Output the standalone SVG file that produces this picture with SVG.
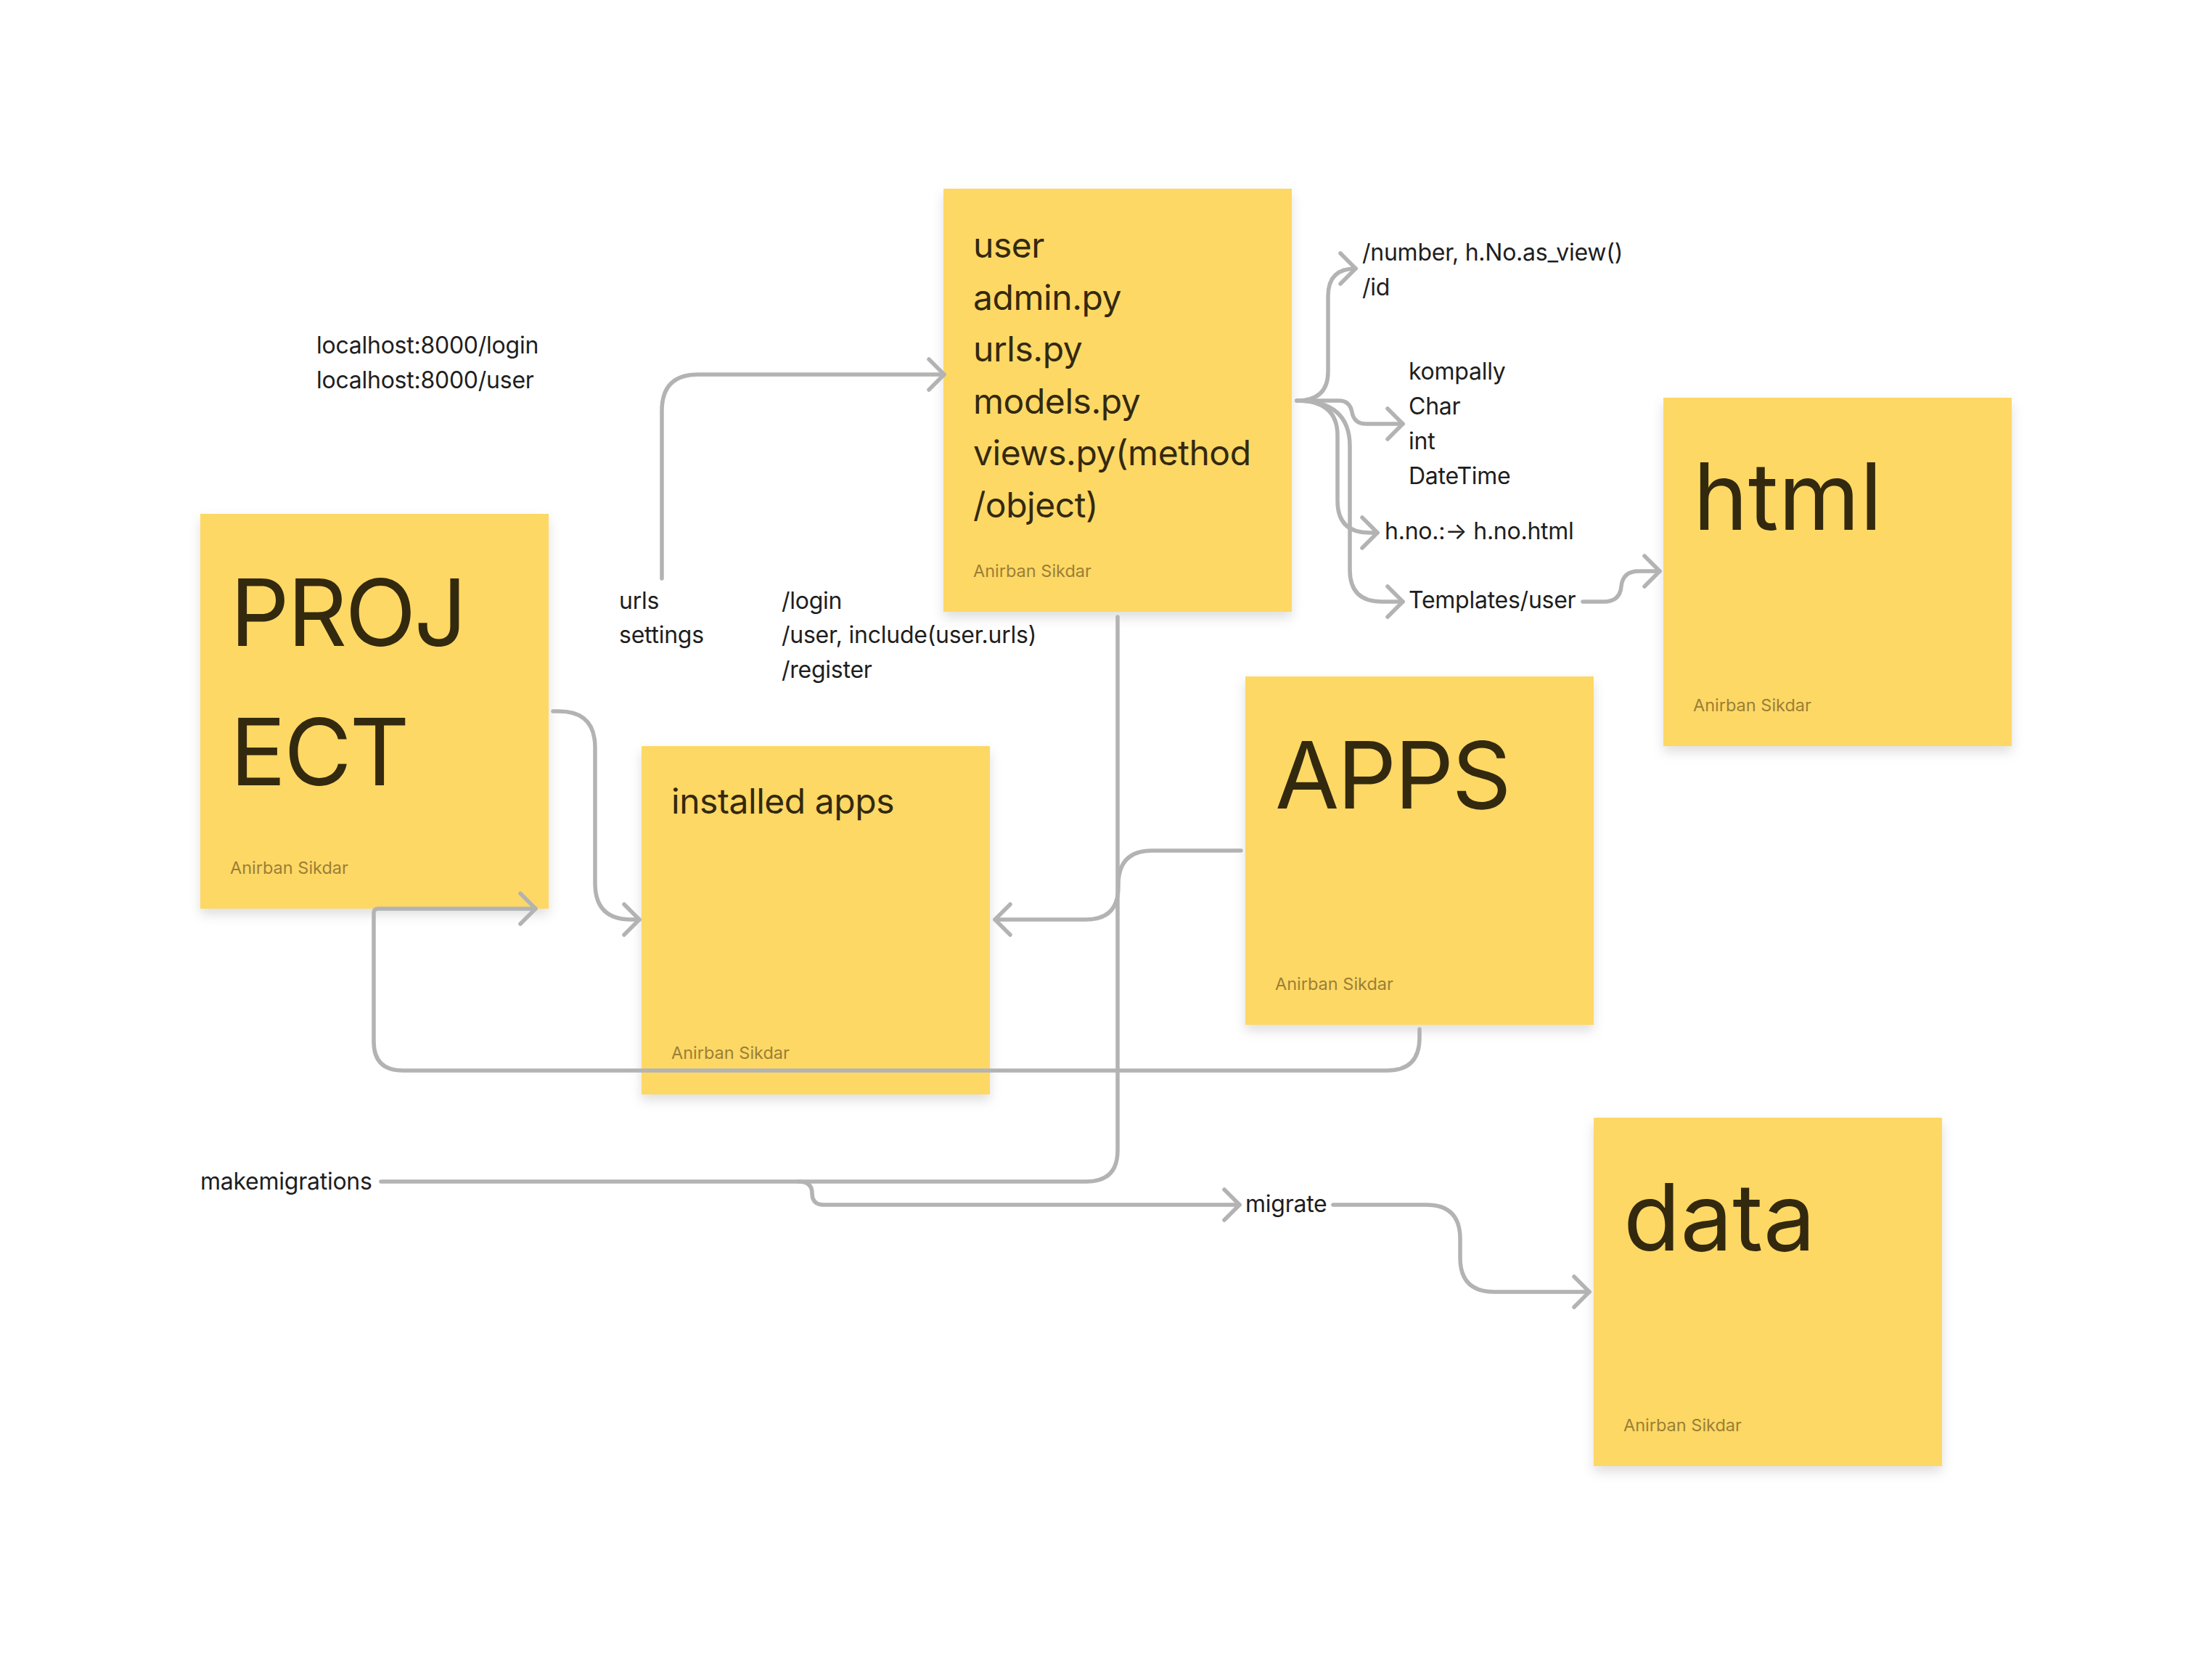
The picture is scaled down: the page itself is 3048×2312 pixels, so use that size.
<svg xmlns="http://www.w3.org/2000/svg" width="3048" height="2312" viewBox="0 0 3048 2312">
<style>
.note{fill:#FED865;filter:url(#sh)}
.big{font-family:Inter,"Noto Sans",sans-serif;font-size:128px;fill:#33290F;letter-spacing:-2.8px}
.big.lc{letter-spacing:0}
.mid{font-family:Inter,"Noto Sans",sans-serif;font-size:48px;fill:#33290F;letter-spacing:-0.45px}
.auth{font-family:Inter,"Noto Sans",sans-serif;font-size:23.5px;fill:#9A7F36}
.lbl{font-family:Inter,"Noto Sans",sans-serif;font-size:32px;fill:#1E1E1E;letter-spacing:-0.25px}
.conn path{fill:none;stroke:#B3B3B3;stroke-width:5.5;stroke-linecap:round;stroke-linejoin:round}
.conn path.a{marker-end:url(#arr)}
</style>
<defs>
<filter id="sh" x="-10%" y="-10%" width="120%" height="125%">
<feDropShadow dx="0" dy="8" stdDeviation="8" flood-color="#000" flood-opacity="0.13"/>
</filter>
<marker id="arr" markerUnits="userSpaceOnUse" viewBox="-26 -26 32 52" refX="0" refY="0" markerWidth="32" markerHeight="52" orient="auto" overflow="visible">
<path d="M-21,-21 L0,0 L-21,21" fill="none" stroke="#B3B3B3" stroke-width="5.5" stroke-linecap="round" stroke-linejoin="round"/>
</marker>
</defs>
<rect width="3048" height="2312" fill="#FFFFFF"/>

<g id="project">
<rect class="note" x="276" y="708" width="480" height="544"/>
<text class="big" x="317" y="890">PROJ</text>
<text class="big" x="317" y="1082">ECT</text>
<text class="auth" x="317" y="1204">Anirban Sikdar</text>
</g>
<g id="user">
<rect class="note" x="1300" y="260" width="480" height="583"/>
<text class="mid" x="1341" y="355">user</text>
<text class="mid" x="1341" y="426.5">admin.py</text>
<text class="mid" x="1341" y="498">urls.py</text>
<text class="mid" x="1341" y="569.5">models.py</text>
<text class="mid" x="1341" y="641">views.py(method</text>
<text class="mid" x="1341" y="712.5">/object)</text>
<text class="auth" x="1341" y="795">Anirban Sikdar</text>
</g>
<g id="installed-apps">
<rect class="note" x="884" y="1028" width="480" height="480"/>
<text class="mid" x="925" y="1121">installed apps</text>
<text class="auth" x="925" y="1459">Anirban Sikdar</text>
</g>
<g id="apps">
<rect class="note" x="1716" y="932" width="480" height="480"/>
<text class="big" x="1757" y="1114">APPS</text>
<text class="auth" x="1757" y="1364">Anirban Sikdar</text>
</g>
<g id="html">
<rect class="note" x="2292" y="548" width="480" height="480"/>
<text class="big lc" x="2333" y="730">html</text>
<text class="auth" x="2333" y="980">Anirban Sikdar</text>
</g>
<g id="data">
<rect class="note" x="2196" y="1540" width="480" height="480"/>
<text class="big lc" x="2237" y="1723">data</text>
<text class="auth" x="2237" y="1972">Anirban Sikdar</text>
</g>

<g id="labels">
<text class="lbl" x="436" y="487">localhost:8000/login</text>
<text class="lbl" x="436" y="535">localhost:8000/user</text>
<text class="lbl" x="853" y="839">urls</text>
<text class="lbl" x="853" y="886">settings</text>
<text class="lbl" x="1077" y="839">/login</text>
<text class="lbl" x="1077" y="886">/user, include(user.urls)</text>
<text class="lbl" x="1077" y="934">/register</text>
<text class="lbl" x="1877" y="359">/number, h.No.as_view()</text>
<text class="lbl" x="1877" y="407">/id</text>
<text class="lbl" x="1941" y="523">kompally</text>
<text class="lbl" x="1941" y="571">Char</text>
<text class="lbl" x="1941" y="619">int</text>
<text class="lbl" x="1941" y="667">DateTime</text>
<text class="lbl" x="1908" y="743">h.no.:→ h.no.html</text>
<text class="lbl" x="1941" y="838">Templates/user</text>
<text class="lbl" x="276" y="1639">makemigrations</text>
<text class="lbl" x="1716" y="1670">migrate</text>
</g>

<g id="connectors" class="conn">
<path class="a" d="M912 797 L912 566 Q912 516 962 516 L1301 516"/>
<path class="a" d="M1787 552 Q1830 552 1830 512 L1830 408 Q1830 370 1868 370"/>
<path class="a" d="M1787 552 L1845 552 Q1860 552 1863 568 Q1866 584 1882 584 L1933 584"/>
<path class="a" d="M1787 552 Q1843 552 1843 600 L1843 690 Q1843 734 1887 734 L1898 734"/>
<path class="a" d="M1787 552 Q1860 552 1860 615 L1860 785 Q1860 829 1904 829 L1933 829"/>
<path class="a" d="M2181 829 L2210 829 Q2232 829 2234 808 Q2236 787 2258 787 L2287 787"/>
<path class="a" d="M762 980 L770 980 Q820 980 820 1030 L820 1217 Q820 1267 870 1267 L881 1267"/>
<path class="a" d="M1956 1418 L1956 1430 Q1956 1475 1911 1475 L555 1475 Q515 1475 515 1435 L515 1258 Q515 1252 521 1252 L738 1252"/>
<path class="a" d="M1710 1172 L1588 1172 Q1541 1172 1541 1219 L1541 1222 Q1541 1267 1496 1267 L1371 1267"/>
<path d="M1540 850 L1540 1585 Q1540 1628 1497 1628 L525 1628"/>
<path class="a" d="M1100 1628 Q1119 1628 1119 1644 Q1119 1660 1135 1660 L1708 1660"/>
<path class="a" d="M1837 1660 L1965 1660 Q2012 1660 2012 1707 L2012 1733 Q2012 1780 2059 1780 L2190 1780"/>
</g>
</svg>
